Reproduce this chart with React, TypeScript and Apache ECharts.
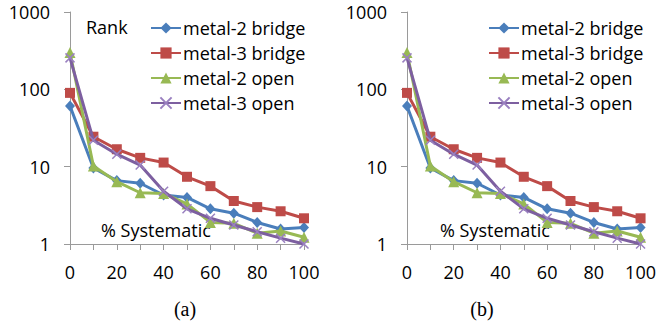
import React, { useEffect, useRef } from "react";
import * as echarts from "echarts";

const categories = ["0", "10", "20", "30", "40", "50", "60", "70", "80", "90", "100"];
const seriesNames = ["metal-2 bridge", "metal-3 bridge", "metal-2 open", "metal-3 open"];
const metal2Bridge = [61, 9.6, 6.6, 6.1, 4.3, 4.0, 2.85, 2.5, 1.9, 1.56, 1.64];
const metal3Bridge = [90, 24.4, 16.8, 13, 11.3, 7.4, 5.6, 3.6, 3.0, 2.65, 2.15];
const metal2Open = [300, 10.2, 6.4, 4.6, 4.5, 3.3, 1.9, 1.85, 1.38, 1.47, 1.22];
const metal3Open = [255, 22, 14.5, 10.5, 4.8, 2.85, 2.15, 1.76, 1.44, 1.19, 1.0];
const seriesValues = [metal2Bridge, metal3Bridge, metal2Open, metal3Open];
const yTicks = [1, 10, 100, 1000];
const panelLabels = ["(a)", "(b)"];

const colors = ["#4a7ebb", "#be4b48", "#98b954", "#7d5fa0"];
const symbols = ["diamond", "rect", "triangle", "path://M0,0L10,10M10,0L0,10"];
const symbolSizes: any[] = [[10, 11], 10, 11, 9];
const FONT = "Open Sans";

export default function App() {
  const ref = useRef<HTMLDivElement>(null);
  useEffect(() => {
    const chart = echarts.init(ref.current!, null, { renderer: "svg" });
    const gridLefts = [70, 407];
    const legendLefts = [150, 488];
    const series: any[] = [];
    for (let g = 0; g < 2; g++) {
      seriesValues.forEach((vals, i) => {
        series.push({
          type: "line",
          name: seriesNames[i],
          xAxisIndex: g,
          yAxisIndex: g,
          data: vals,
          symbol: symbols[i],
          symbolSize: symbolSizes[i],
          showSymbol: true,
          lineStyle: { color: colors[i], width: 3 },
          itemStyle: {
            color: colors[i],
            borderColor: i === 3 ? "#9a80c0" : colors[i],
            borderWidth: i === 3 ? 1.5 : 0,
          },
          z: 2 + i,
        });
      });
    }
    const axisLine = { show: true, lineStyle: { color: "#9a9a9a", width: 1 } };
    chart.setOption({
      animation: false,
      backgroundColor: "#ffffff",
      textStyle: { fontFamily: FONT },
      grid: gridLefts.map((l) => ({ left: l, top: 12, width: 234, height: 232 })),
      legend: legendLefts.map((l) => ({
        left: l,
        top: 19,
        padding: 0,
        orient: "vertical",
        itemWidth: 30,
        itemHeight: 14,
        itemGap: 7,
        selectedMode: false,
        data: seriesNames,
        textStyle: { fontFamily: FONT, fontSize: 18, color: "#000", padding: [0, 0, 0, -3] },
      })),
      xAxis: [0, 1].map((g) => ({
        type: "category",
        gridIndex: g,
        data: categories,
        boundaryGap: false,
        axisLine,
        axisTick: { show: true, inside: false, length: 6, interval: 0, lineStyle: { color: "#9a9a9a" } },
        axisLabel: { interval: 1, fontFamily: FONT, fontSize: 18, color: "#000", margin: 19 },
        splitLine: { show: false },
      })),
      yAxis: [0, 1].map((g) => ({
        type: "log",
        gridIndex: g,
        logBase: 10,
        min: yTicks[0],
        max: yTicks[yTicks.length - 1],
        axisLine,
        axisTick: { show: true, inside: false, length: 6, lineStyle: { color: "#9a9a9a" } },
        axisLabel: {
          fontFamily: FONT,
          fontSize: 18,
          color: "#000",
          margin: 20,
          formatter: (v: number) => String(Math.round(v)),
        },
        splitLine: { show: false },
        minorTick: { show: false },
      })),
      graphic: [
        { type: "text", left: 86, top: 18, style: { text: "Rank", font: `18px "${FONT}"`, fill: "#000" } },
        { type: "text", left: 101, top: 221, style: { text: "% Systematic", font: `18px "${FONT}"`, fill: "#000" } },
        { type: "text", left: 440, top: 221, style: { text: "% Systematic", font: `18px "${FONT}"`, fill: "#000" } },
        { type: "text", x: 185, y: 309, style: { text: panelLabels[0], font: '20px "Liberation Serif"', fill: "#000", align: "center", verticalAlign: "middle" } },
        { type: "text", x: 482, y: 309, style: { text: panelLabels[1], font: '20px "Liberation Serif"', fill: "#000", align: "center", verticalAlign: "middle" } },
      ],
      series,
    });
    return () => chart.dispose();
  }, []);
  return <div ref={ref} style={{ width: 659, height: 327, position: "absolute", left: 0, top: 0 }} />;
}
